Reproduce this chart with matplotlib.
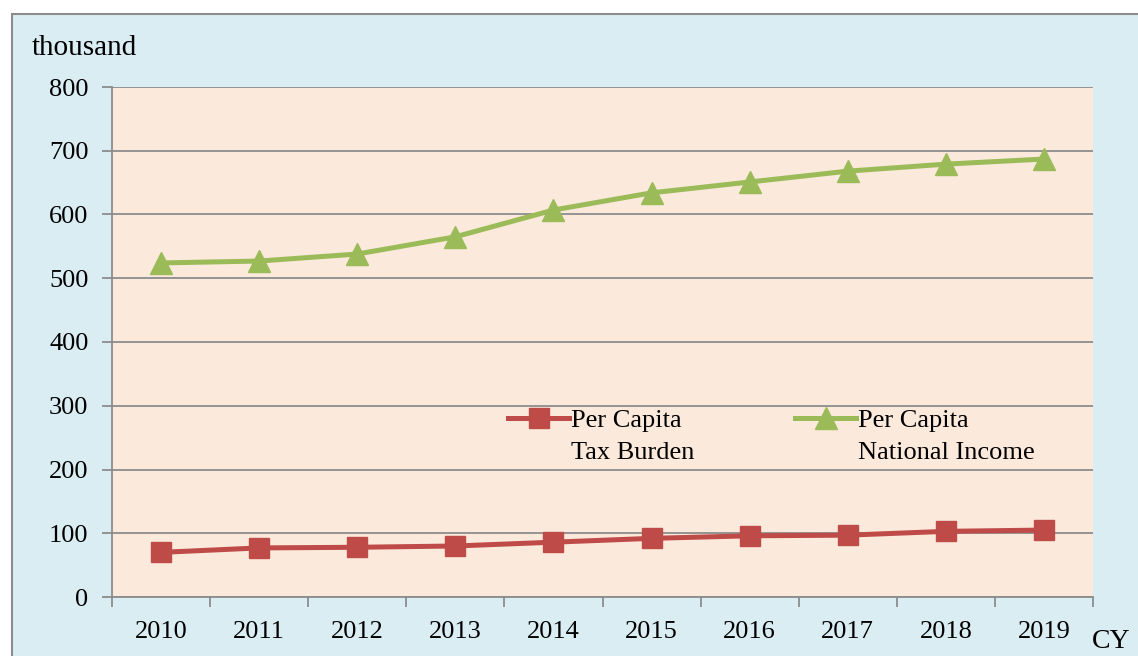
import matplotlib.pyplot as plt
import matplotlib.patches as mpatches
from matplotlib.ticker import FixedLocator, MultipleLocator

years = ['2010', '2011', '2012', '2013', '2014', '2015', '2016', '2017', '2018', '2019']
tax_burden = [70, 77, 78, 80, 86, 92, 96, 97, 103, 105]
national_income = [524, 527, 538, 565, 607, 634, 651, 668, 679, 687]

plt.rcParams['font.family'] = ['Liberation Serif', 'DejaVu Serif']

W, H = 1138, 656
fig = plt.figure(figsize=(W / 100, H / 100), dpi=100)
fig.patch.set_facecolor('white')

# outer chart area (runs off the right and bottom edges)
outer = mpatches.Rectangle((12 / W, -0.1), 1.2, (H - 14) / H + 0.1, transform=fig.transFigure,
                           facecolor='#DAEDF3', edgecolor='#8C8C8C', linewidth=1.5, zorder=-1)
fig.patches.append(outer)

ax = fig.add_axes([112 / W, (H - 597) / H, (1093 - 112) / W, (597 - 87) / H])
ax.set_zorder(2)
ax.set_facecolor('#FBE9DB')

x = list(range(len(years)))
ax.plot(x, tax_burden, color='#BE4B48', linewidth=3.6, marker='s', markersize=14.5,
        label='Per Capita', zorder=3)
ax.plot(x, national_income, color='#9BBB59', linewidth=3.6, marker='^', markersize=16,
        label='Per Capita', zorder=3)

ax.set_xlim(-0.5, len(years) - 0.5)
ax.set_ylim(0, 800)
ax.yaxis.set_major_locator(MultipleLocator(100))
ax.grid(axis='y', color='#8C8C8C', linewidth=1.3)
ax.set_axisbelow(True)

ax.set_xticks(x)
ax.set_xticklabels(years)
ax.xaxis.set_minor_locator(FixedLocator([i - 0.5 for i in range(len(years) + 1)]))
ax.tick_params(axis='x', which='major', length=0, pad=17, labelsize=19)
ax.tick_params(axis='x', which='minor', length=7, color='#8C8C8C', width=1.3)
ax.tick_params(axis='y', length=7, color='#8C8C8C', width=1.3, pad=10, labelsize=19)

for s in ['top', 'right']:
    ax.spines[s].set_visible(False)
for s in ['left', 'bottom']:
    ax.spines[s].set_color('#8C8C8C')
    ax.spines[s].set_linewidth(1.3)

leg = ax.legend(loc='upper left', bbox_to_anchor=(0.404, 0.37), ncol=2, frameon=False,
                fontsize=19, handlelength=2.3, handletextpad=0.08, columnspacing=4.3,
                borderpad=0, borderaxespad=0)
second_lines = ['Tax Burden', 'National Income']
for t, s in zip(leg.get_texts(), second_lines):
    ax.annotate(s, xy=(0, 0.5), xycoords=t, xytext=(0, -23), textcoords='offset points',
                va='center', ha='left', fontsize=19, zorder=10)

fig.text(32 / W, 1 - 48 / H, 'thousand', fontsize=21, va='center', ha='left')
fig.text(1111 / W, 1 - 641 / H, 'CY', fontsize=20, va='center', ha='center')

fig.savefig('out.png', dpi=100)
